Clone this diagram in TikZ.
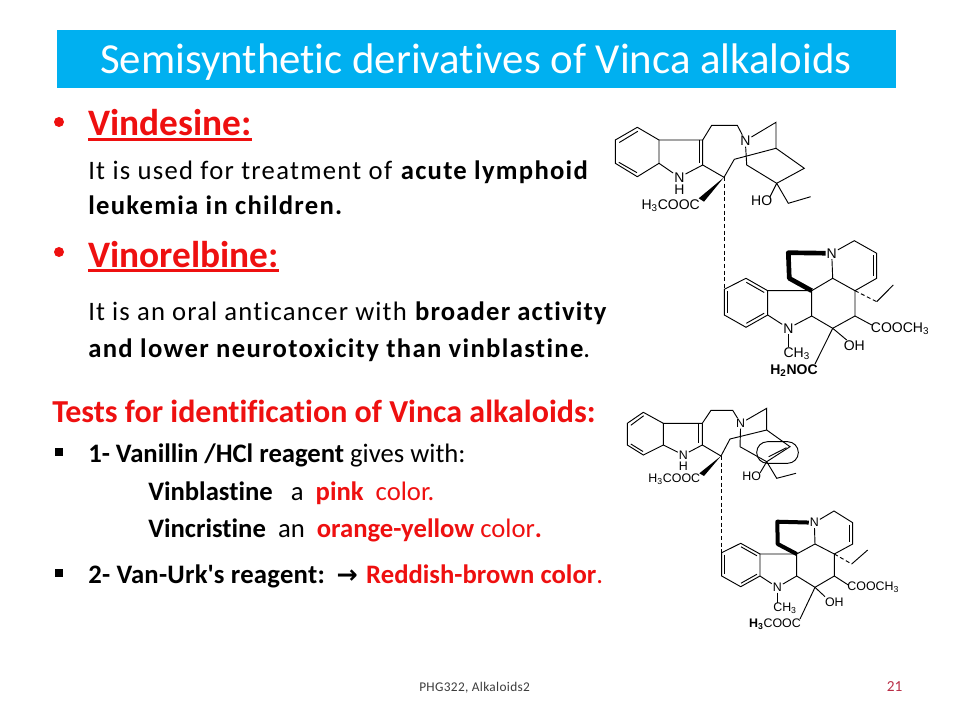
\documentclass[tikz,border=0pt]{standalone}
\usepackage{fontspec}
\usetikzlibrary{calc}
\setmainfont{Carlito}[Ligatures=NoCommon]
\newfontfamily\molfont{Liberation Sans}
\newfontfamily\arrowfont{DejaVu Sans}
\definecolor{titleblue}{RGB}{0,176,240}
\definecolor{slidered}{RGB}{238,16,16}
\definecolor{pagenum}{RGB}{185,45,70}
\definecolor{footgray}{RGB}{60,60,60}
\newcommand{\hl}[1]{\textbf{\textcolor{slidered}{#1}}}
\tikzset{
  txt/.style={anchor=base west,inner sep=0pt,font=\fontsize{20}{22}\selectfont},
  head/.style={txt,text=slidered,font=\fontsize{28}{30}\selectfont\bfseries},
  bond/.style={line width=.7pt},
  atom/.style={inner sep=.6pt,font=\molfont\fontsize{10.5}{12}\selectfont},
  small atom/.style={atom,font=\molfont\fontsize{9.3}{11}\selectfont},
  bold bond/.style={line width=3.5pt,line join=round},
  hash/.style={line width=.7pt,dash pattern=on 3pt off 2pt},
  bullet/.style={circle,fill=slidered,inner sep=0pt,minimum size=7.5pt},
  square/.style={fill=black,inner sep=0pt,minimum size=6pt},
}
\begin{document}
\begin{tikzpicture}[x=.75pt,y=-.75pt]
\useasboundingbox (0,0) rectangle (960,720);
% title
\fill[titleblue] (57,30) rectangle (896,88);
\node[txt,text=white,font=\fontsize{32.1}{36}\selectfont] (title) at (100,74) {Semisynthetic derivatives of Vinca alkaloids};
% Vindesine
\node[bullet] (dot1) at (59,122) {};
\node[head] (vindesine) at (88,136) {Vindesine:};
\draw[slidered,line width=2.25pt] ([yshift=-2.4pt]vindesine.base west) -- ([yshift=-2.4pt]vindesine.base east);
\node[txt] (use1) at (88,180) {\addfontfeature{LetterSpace=4.8}It is used for treatment of \textbf{acute lymphoid}};
\node[txt] (use2) at (88,214.5) {\addfontfeature{LetterSpace=4.8}\textbf{leukemia in children.}};
% Vinorelbine
\node[bullet] (dot2) at (59,252) {};
\node[head] (vinorelbine) at (88,267.5) {Vinorelbine:};
\draw[slidered,line width=2.25pt] ([yshift=-2.4pt]vinorelbine.base west) -- ([yshift=-2.4pt]vinorelbine.base east);
\node[txt] (use3) at (88,320.5) {\addfontfeature{LetterSpace=4.3}It is an oral anticancer with \textbf{broader activity}};
\node[txt] (use4) at (88,357.5) {\addfontfeature{LetterSpace=5}\textbf{and lower neurotoxicity than vinblastine}.};
% Tests
\node[txt,text=slidered,font=\fontsize{24}{26}\selectfont\bfseries] (tests) at (52,422.5) {Tests for identification of Vinca alkaloids:};
\node[square] (sq1) at (58.5,452) {};
\node[txt] (test1) at (88,462) {\textbf{1- Vanillin /HCl reagent} gives with:};
\node[txt] (blast) at (148,500) {\textbf{Vinblastine}~~~a~~\hl{pink}~~\textcolor{slidered}{color.}};
\node[txt] (crist) at (148,537.5) {\textbf{Vincristine}~~an~~\hl{orange-yellow}~\textcolor{slidered}{color}\hl{.}};
\node[square] (sq2) at (58.5,573) {};
\node[txt] (test2) at (88,583.5) {{\addfontfeature{LetterSpace=1}\textbf{2- Van-Urk\textquotesingle s reagent:}}\hspace{9pt}\makebox[15pt]{\arrowfont\bfseries\fontsize{19}{20}\selectfont →}\hspace{6.75pt}\hl{Reddish-brown color}\textcolor{slidered}{.}};
% footer
\node[txt,text=footgray,font=\fontsize{10}{12}\selectfont] (foot) at (419,691.5) {\addfontfeature{LetterSpace=2.5}PHG322, Alkaloids2};
\node[txt,text=pagenum,font=\fontsize{11.5}{12}\selectfont] (page) at (886.5,691) {21};
% 1st molecule
\node[atom] (an1) at (745.3,140.7) {N};
\node[atom] (an2) at (679.3,177.3) {N};
\node[atom] (ah) at (679.3,189.3) {H};
\node[atom] (ames) at (670.7,205.5) {H\textsubscript{3}COOC};
\node[atom] (aho) at (761.7,201) {HO};
\foreach \n/\x/\y in {a1/637.3/127.3,a2/659/140,a3/659/163.3,a4/637.3/176.7,a5/615.3/163.3,a6/615.3/140,
  a7/702.7/140,a8/702.7/165,a9/711.7/125.3,a10/737.3/125.3,a11/776/122.3,a12/776/148.3,a13/734.3/159.3,a14/724/177.3,
  a15/746.7/165,a16/776.7/183.3,a17/804.3/168.3,a18/788.3/203.3,a19/810.7/196.7,a20/770/196.7,
  a21/698.7/198.3,a22/704/201.7,a23/724/288}
  \coordinate (\n) at (\x,\y);
\draw[bond] (a1) -- (a2) -- (a3) -- (a4) -- (a5) -- (a6) -- cycle;
\draw[bond] ($(a1)+(.5,4)$) -- ($(a6)+(4,2.5)$);
\draw[bond] ($(a5)+(3.5,-1)$) -- ($(a4)+(-.3,-4)$);
\draw[bond] (a2) -- (a7) -- (a9) -- (a10) -- (an1) -- (a11) -- (a12) -- (a13) -- (a14) -- (a8);
\draw[bond] (a7) -- (a8) (a3) -- (an2) -- (a8);
\draw[bond] ($(a7)+(-3.5,0)$) -- ($(a8)+(-3.5,-2)$);
\draw[bond] (an1) -- (a15) -- (a16) -- (a17) -- (a12);
\draw[bond] (a16) -- (a20) (a16) -- (a18) -- (a19);
\fill (a14) -- (a21) -- (a22) -- cycle;
\draw[hash] (a14) -- (a23);
% 2nd molecule
\node[atom] (bn1) at (831.7,253.3) {N};
\node[atom] (bn2) at (788.3,328.3) {N};
\node[atom] (bme) at (796.7,354) {CH\textsubscript{3}};
\node[atom] (boh) at (854.3,346) {OH};
\node[atom] (bcoo) at (900,328.3) {COOCH\textsubscript{3}};
\node[atom,font=\molfont\bfseries\fontsize{10.5}{12}\selectfont] (bam) at (794,371) {H\textsubscript{2}NOC};
\foreach \n/\x/\y in {b1/724.3/289.3,b2/746/278.3,b3/767.7/290.7,b4/767.7/315,b5/746/327.3,b6/724.3/315,
  b7/811.7/290.7,b8/811.7/316,b9/832.7/278.3,b10/854.3/240.7,b11/876.7/253.3,b12/876.7/278.3,b13/855/290.7,b14/855/316,b15/832.7/328.3,
  b16/788.3/252.7,b17/789.3/278.3,b18/876.7/301.7,b19/893.3/285,b20/788.3/347,b21/871.7/325,b22/846.7/340,b23/815/364}
  \coordinate (\n) at (\x,\y);
\draw[bond] (b1) -- (b2) -- (b3) -- (b4) -- (b5) -- (b6) -- cycle;
\draw[bond] ($(b2)+(.3,4)$) -- ($(b3)+(-3.5,1.8)$);
\draw[bond] ($(b4)+(-3.5,-1.8)$) -- ($(b5)+(.3,-4)$);
\draw[bond] ($(b1)+(3.5,2)$) -- ($(b6)+(3.5,-2)$);
\draw[bond] (b3) -- (b7) -- (b8) -- (bn2) -- (b4) (b7) -- (b9) -- (bn1) -- (b10) -- (b11) -- (b12) -- (b13) -- (b9);
\draw[bond] ($(b11)+(-3.5,2)$) -- ($(b12)+(-3.5,-2)$);
\draw[bond] (b13) -- (b14) -- (b15) -- (b8);
\draw[bond] (bn2) -- (b20);
\draw[bold bond] (bn1) -- (b16) -- (b17) -- (b7);
\draw[hash] (b13) -- (b18);
\draw[bond] (b18) -- (b19);
\draw[bond] (b14) -- (b21) (b15) -- (b22) (b15) -- (b23);
% 3rd molecule
\node[small atom] (cn1) at (740.7,423.3) {N};
\node[small atom] (cn2) at (683.3,455) {N};
\node[small atom] (ch) at (683.3,466.5) {H};
\node[small atom] (cmes) at (674.3,479.5) {H\textsubscript{3}COOC};
\node[small atom] (cho) at (751.7,476.7) {HO};
\foreach \n/\x/\y in {c1/643.3/412.3,c2/663.3/423.3,c3/663.3/445,c4/643.3/455,c5/627.3/445,c6/627.3/423.3,
  c7/702.3/423.3,c8/702.3/445,c9/711/410.3,c10/732.7/410.3,c11/766.7/408.3,c12/766.7/430,c13/730/439,c14/721/456,
  c15/740/446.7,c16/766.7/461.7,c17/790/446.7,c18/776.7/478.3,c19/796/473.3,c20/760/473,
  c21/699.3/473.3,c22/704/476,c23/721/553}
  \coordinate (\n) at (\x,\y);
\draw[bond] (c1) -- (c2) -- (c3) -- (c4) -- (c5) -- (c6) -- cycle;
\draw[bond] ($(c1)+(.3,3.5)$) -- ($(c6)+(3.5,2)$);
\draw[bond] ($(c5)+(3.5,-1)$) -- ($(c4)+(-.3,-3.5)$);
\draw[bond] (c2) -- (c7) -- (c9) -- (c10) -- (cn1) -- (c11) -- (c12) -- (c13) -- (c14) -- (c8);
\draw[bond] (c7) -- (c8) (c3) -- (cn2) -- (c8);
\draw[bond] ($(c7)+(-3.5,0)$) -- ($(c8)+(-3.5,-2)$);
\draw[bond] (cn1) -- (c15) -- (c16) -- (c17) -- (c12);
\draw[bond] ($(c16)+(2,-5)$) -- ($(c17)+(-3.5,1)$);
\draw[bond] (c16) -- (c20) (c16) -- (c18) -- (c19);
\draw[bond,rounded corners=8pt] (756.7,441.7) rectangle (798.3,463.3);
\fill (c14) -- (c21) -- (c22) -- cycle;
\draw[hash] (c14) -- (c23);
% 4th molecule
\node[small atom] (dn1) at (814.3,522.7) {N};
\node[small atom] (dn2) at (777.3,587.3) {N};
\node[small atom] (dme) at (785,608) {CH\textsubscript{3}};
\node[small atom] (doh) at (834.3,602.7) {OH};
\node[small atom] (dcoo) at (873.3,587.3) {COOCH\textsubscript{3}};
\node[small atom] (dam) at (775,624) {\textbf{H\textsubscript{3}}COOC};
\foreach \n/\x/\y in {d1/721.7/552.7,d2/740.7/543.3,d3/760/554,d4/760/576,d5/740.7/586.7,d6/721.7/576,
  d7/796.7/554,d8/796.7/576,d9/815/544,d10/834/511,d11/852.7/522.7,d12/852.7/544,d13/834.3/554,d14/834.3/576,d15/815/587.3,
  d16/777.3/521.7,d17/777.7/544,d18/851.7/564,d19/867.7/550,d20/777.3/603,d21/848.3/585,d22/825/596.7,d23/800/619}
  \coordinate (\n) at (\x,\y);
\draw[bond] (d1) -- (d2) -- (d3) -- (d4) -- (d5) -- (d6) -- cycle;
\draw[bond] ($(d2)+(.3,3.5)$) -- ($(d3)+(-3,1.8)$);
\draw[bond] ($(d4)+(-3,-1.8)$) -- ($(d5)+(.3,-3.5)$);
\draw[bond] ($(d1)+(3,2)$) -- ($(d6)+(3,-2)$);
\draw[bond] (d3) -- (d7) -- (d8) -- (dn2) -- (d4) (d7) -- (d9) -- (dn1) -- (d10) -- (d11) -- (d12) -- (d13) -- (d9);
\draw[bond] ($(d11)+(-3,2)$) -- ($(d12)+(-3,-2)$);
\draw[bond] (d13) -- (d14) -- (d15) -- (d8);
\draw[bond] (dn2) -- (d20);
\draw[bold bond,line width=3pt] (dn1) -- (d16) -- (d17) -- (d7);
\draw[hash] (d13) -- (d18);
\draw[bond] (d18) -- (d19);
\draw[bond] (d14) -- (d21) (d15) -- (d22) (d15) -- (d23);
\end{tikzpicture}
\end{document}
